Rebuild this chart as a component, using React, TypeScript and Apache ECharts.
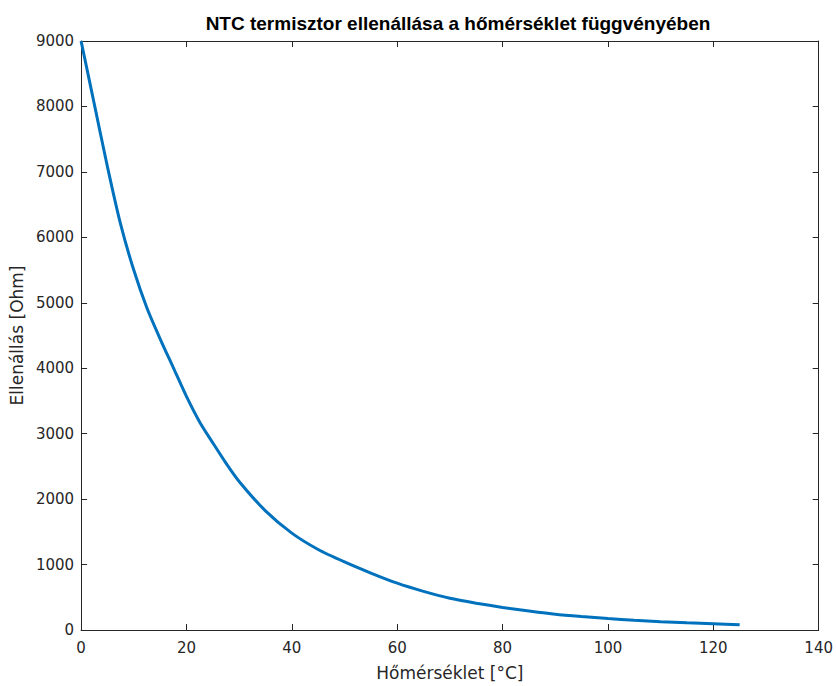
import React, { useEffect, useRef } from "react";
import * as echarts from "echarts";

const temperatures = [0, 2.5, 5, 7.5, 10, 12.5, 15, 17.5, 20, 22.5, 25, 27.5, 30, 35, 40, 45, 50, 55, 60, 65, 70, 75, 80, 85, 90, 95, 100, 105, 110, 115, 120, 125];
const resistances = [9000, 8040, 7080, 6200, 5500, 4920, 4450, 4010, 3570, 3180, 2860, 2550, 2270, 1820, 1480, 1230, 1040, 870, 715, 590, 485, 410, 345, 290, 240, 205, 175, 148, 125, 110, 97, 80];
const xTicks = { min: 0, max: 140, interval: 20 };
const yTicks = { min: 0, max: 9000, interval: 1000 };

const titleText = "NTC termisztor ellenállása a hőmérséklet függvényében";
const xName = "Hőmérséklet [°C]";
const yName = "Ellenállás [Ohm]";

export default function App() {
  const ref = useRef<HTMLDivElement>(null);
  useEffect(() => {
    if (!ref.current) return;
    const chart = echarts.init(ref.current, null, { renderer: "svg" });
    const font = "'DejaVu Sans', 'Liberation Sans', Arial, sans-serif";
    const titleFont = "'Liberation Sans', Arial, Helvetica, sans-serif";
    const axisColor = "#262626";
    const baseAxis = {
      type: "value" as const,
      axisLine: { show: true, onZero: false, lineStyle: { color: axisColor, width: 1 } },
      axisTick: { show: true, inside: true, length: 6, lineStyle: { color: axisColor } },
      splitLine: { show: false },
    };
    chart.setOption({
      animation: false,
      backgroundColor: "#ffffff",
      title: {
        text: titleText,
        left: 453,
        textAlign: "center",
        top: 9,
        textStyle: { fontFamily: titleFont, fontSize: 19, fontWeight: "bold", color: "#000" },
      },
      grid: { left: 79.5, right: 14.5, top: 41, bottom: 52 },
      xAxis: [
        {
          ...baseAxis,
          ...xTicks,
          position: "bottom",
          name: xName,
          nameLocation: "middle",
          nameGap: 34,
          nameTextStyle: { fontFamily: font, fontSize: 17, color: axisColor },
          axisLabel: { fontFamily: font, fontSize: 15, color: axisColor, margin: 10, formatter: (v: number) => String(v) },
        },
        {
          ...baseAxis,
          ...xTicks,
          position: "top",
          axisLabel: { show: false },
        },
      ],
      yAxis: [
        {
          ...baseAxis,
          ...yTicks,
          position: "left",
          name: yName,
          nameLocation: "middle",
          nameGap: 52,
          nameTextStyle: { fontFamily: font, fontSize: 17, color: axisColor },
          axisLabel: { fontFamily: font, fontSize: 15, color: axisColor, margin: 7, formatter: (v: number) => String(v) },
        },
        {
          ...baseAxis,
          ...yTicks,
          position: "right",
          axisLabel: { show: false },
        },
      ],
      series: [
        {
          type: "line",
          xAxisIndex: 0,
          yAxisIndex: 0,
          data: temperatures.map((t, i) => [t, resistances[i]]),
          showSymbol: false,
          smooth: 0.25,
          lineStyle: { color: "#0072BD", width: 3 },
          itemStyle: { color: "#0072BD" },
        },
      ],
    });
    return () => chart.dispose();
  }, []);
  return <div ref={ref} style={{ position: "absolute", left: 0, top: 0, width: 836, height: 686 }} />;
}
